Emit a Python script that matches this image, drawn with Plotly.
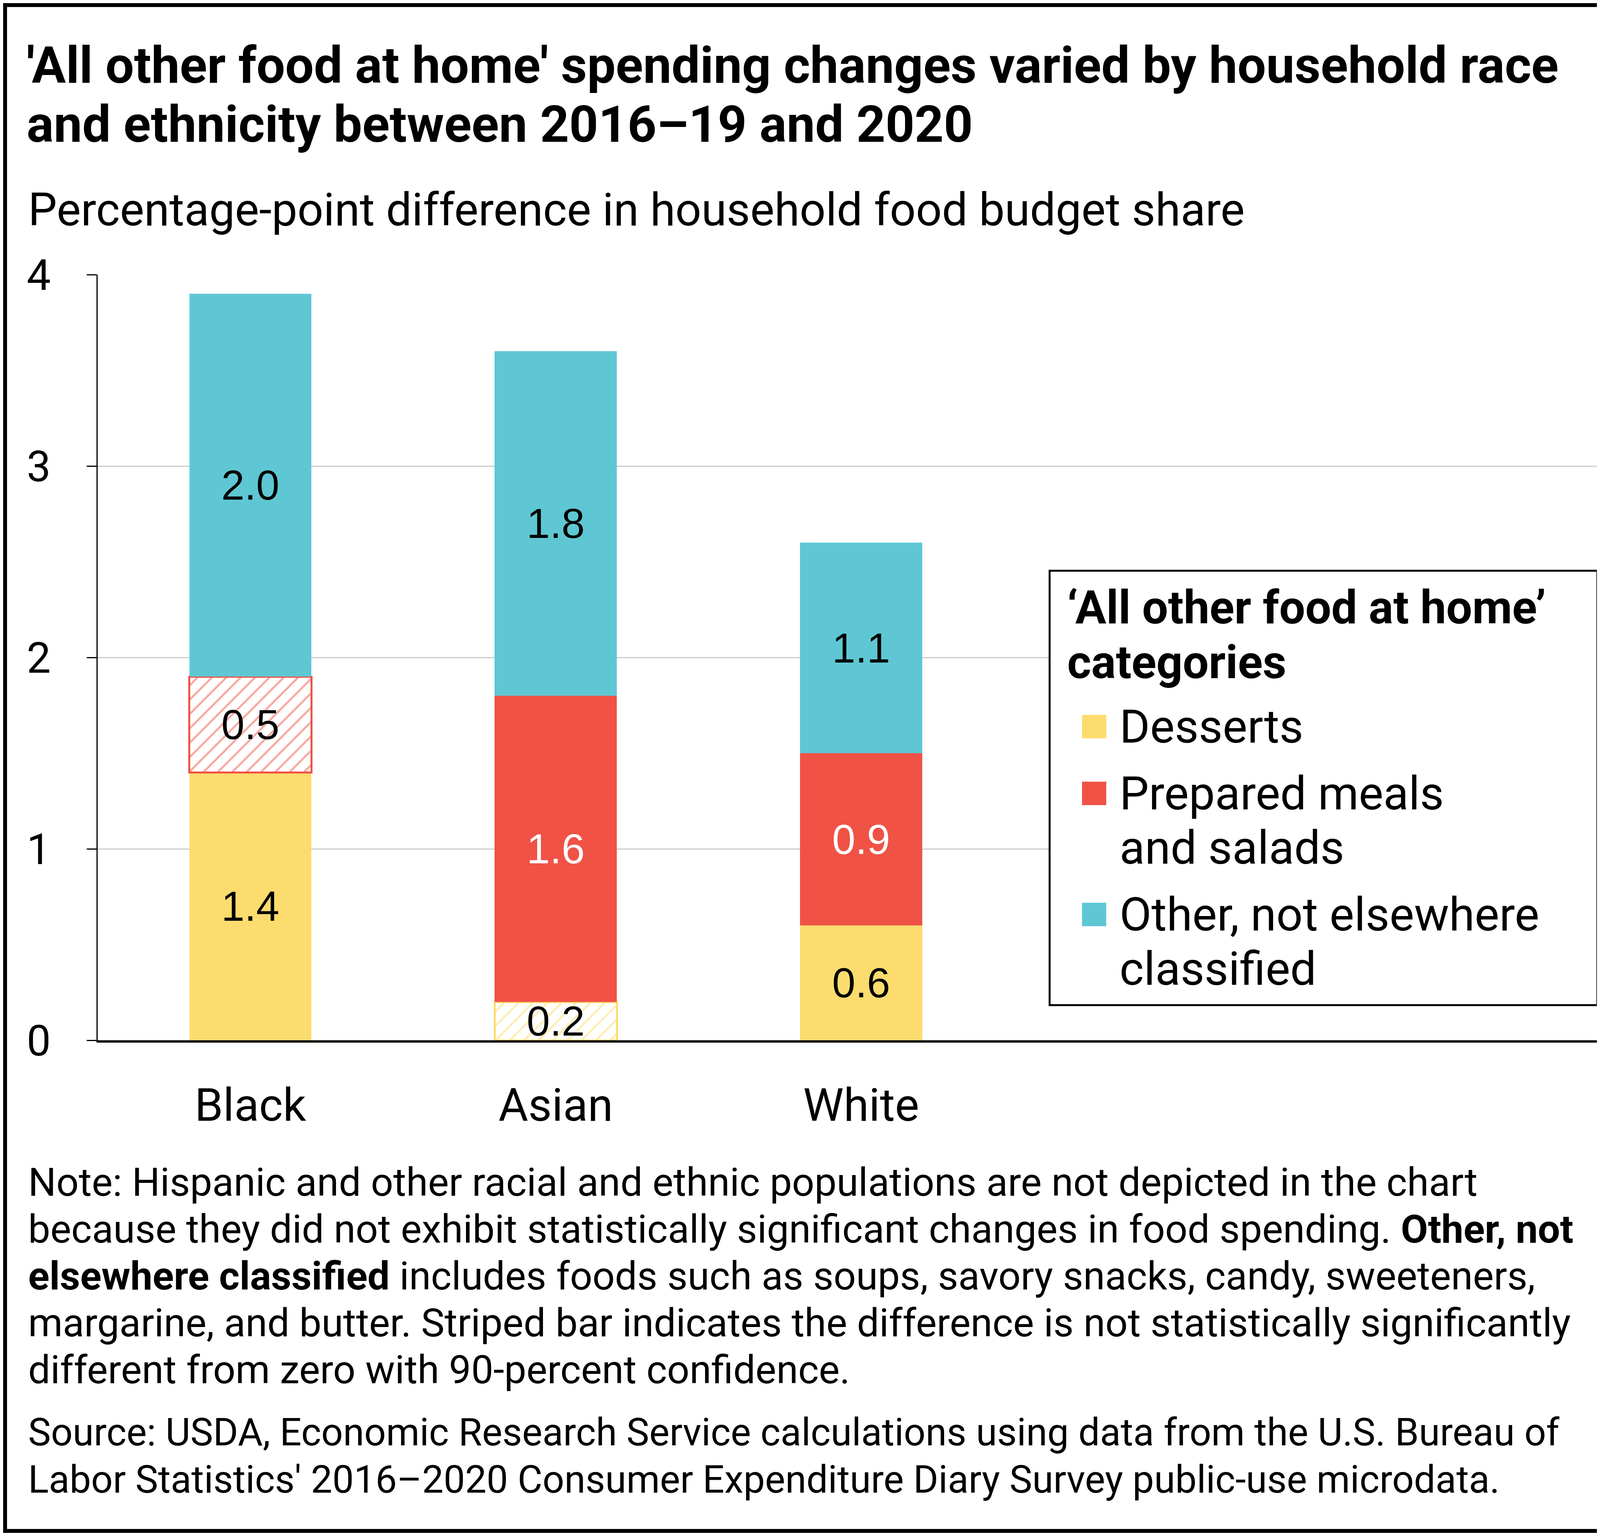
import plotly.graph_objects as go

# data
groups = ["Black", "Asian", "White"]
desserts = [1.4, 0.2, 0.6]
prepared = [0.5, 1.6, 0.9]
other = [2.0, 1.8, 1.1]
# striped = not statistically significant
desserts_striped = [False, True, False]
prepared_striped = [True, False, False]
other_striped = [False, False, False]

series_names = ["Desserts", "Prepared meals<br>and salads", "Other, not elsewhere<br>classified"]
colors = ["#FCDC6E", "#F05246", "#5EC7D3"]
label_colors = ["black", "white", "black"]

title_lines = [
    "'All other food at home' spending changes varied by household race",
    "and ethnicity between 2016–19 and 2020",
]
subtitle = "Percentage-point difference in household food budget share"
legend_title = ["‘All other food at home’", "categories"]
note_lines = [
    "Note: Hispanic and other racial and ethnic populations are not depicted in the chart",
    "because they did not exhibit statistically significant changes in food spending. <b>Other, not</b>",
    "<b>elsewhere classified</b> includes foods such as soups, savory snacks, candy, sweeteners,",
    "margarine, and butter. Striped bar indicates the difference is not statistically significantly",
    "different from zero with 90-percent confidence.",
]
source_lines = [
    "Source: USDA, Economic Research Service calculations using data from the U.S. Bureau of",
    "Labor Statistics' 2016–2020 Consumer Expenditure Diary Survey public-use microdata.",
]

FONT = "Roboto"
NUM_FONT = "Liberation Sans"
OFF = 8  # page body margin
W, H = 4268 - 2 * OFF, 3932 - 2 * OFF
ML, MT = 250 - OFF, 703 - OFF
MR, MB = W - (4159 - OFF), H - (2663 - OFF)
PW, PH = W - ML - MR, H - MT - MB


# positions below are given in page pixels
def fx(px):
    return (px - OFF - ML) / PW


def fy(py):
    return (H - MB - (py - OFF)) / PH


fig = go.Figure()

for vals, striped, color, txtcolor, name in zip(
    [desserts, prepared, other],
    [desserts_striped, prepared_striped, other_striped],
    colors,
    label_colors,
    series_names,
):
    fig.add_trace(
        go.Bar(
            x=groups,
            y=vals,
            name=name,
            text=[f"{v:.1f}" for v in vals],
            textposition="inside",
            insidetextanchor="middle",
            textangle=0,
            textfont=dict(
                family=NUM_FONT,
                size=107,
                color=["black" if s else txtcolor for s in striped],
            ),
            marker=dict(
                color=color,
                line=dict(color=color, width=[5 if s else 0 for s in striped]),
                pattern=dict(
                    shape=["/" if s else "" for s in striped],
                    fgcolor=color,
                    bgcolor="white",
                    size=26,
                    solidity=0.2,
                ),
            ),
            showlegend=False,
            hoverinfo="skip",
        )
    )

annotations = []
shapes = []


def add_text(text, x, y, size, bold=False):
    annotations.append(
        dict(
            text=f"<b>{text}</b>" if bold else text,
            x=fx(x),
            y=fy(y),
            xref="paper",
            yref="paper",
            xanchor="left",
            yanchor="middle",
            showarrow=False,
            font=dict(family=FONT, size=size, color="black"),
        )
    )


# title and subtitle
for i, line in enumerate(title_lines):
    add_text(line, 66, 168 + i * 150, 130, bold=True)
add_text(subtitle, 70, 537, 117)

# notes
for i, line in enumerate(note_lines):
    add_text(line, 70, 3026 + i * 120, 101)
for i, line in enumerate(source_lines):
    add_text(line, 70, 3666 + i * 121, 98)

# legend box
shapes.append(
    dict(type="rect", xref="paper", yref="paper",
         x0=fx(2687), x1=fx(4089), y0=fy(1461), y1=fy(2573),
         line=dict(color="black", width=5), fillcolor="white", layer="above")
)
for i, line in enumerate(legend_title):
    add_text(line, 2730, 1556 + i * 140, 118, bold=True)
item_y = [1860, 2031, 2341]
for name, color, yy in zip(series_names, colors, item_y):
    shapes.append(
        dict(type="rect", xref="paper", yref="paper",
             x0=fx(2770), x1=fx(2832), y0=fy(yy - 30), y1=fy(yy + 30),
             line=dict(width=0), fillcolor=color, layer="above")
    )
    for j, part in enumerate(name.split("<br>")):
        add_text(part, 2864, yy + j * 139, 119)

# outer frame
shapes.append(
    dict(type="rect", xref="paper", yref="paper",
         x0=fx(OFF + 5), x1=fx(OFF + W - 5), y0=fy(OFF + H - 5), y1=fy(OFF + 5),
         line=dict(color="black", width=10), layer="above")
)

fig.update_layout(
    width=W,
    height=H,
    barmode="stack",
    bargap=0.6,
    plot_bgcolor="white",
    paper_bgcolor="white",
    margin=dict(l=ML, r=MR, t=MT, b=MB, autoexpand=False),
    font=dict(family=FONT, color="black"),
    uniformtext=dict(minsize=107, mode="show"),
    annotations=annotations,
    shapes=shapes,
)
fig.update_xaxes(
    type="category",
    categoryorder="array",
    categoryarray=groups,
    range=[-0.5, 4.5],
    showgrid=False,
    showline=True,
    linecolor="black",
    linewidth=6,
    ticks="",
    tickfont=dict(family=FONT, size=117, color="black"),
    ticklabelstandoff=60,
)
fig.update_yaxes(
    range=[0, 4],
    tickvals=[0, 1, 2, 3, 4],
    showgrid=True,
    gridcolor="#CCCCCC",
    gridwidth=3,
    zeroline=False,
    showline=True,
    linecolor="black",
    linewidth=3,
    ticks="outside",
    ticklen=25,
    tickwidth=3,
    tickcolor="black",
    tickfont=dict(family=FONT, size=110, color="black"),
    ticklabelstandoff=70,
)

fig.write_html("out.html")
